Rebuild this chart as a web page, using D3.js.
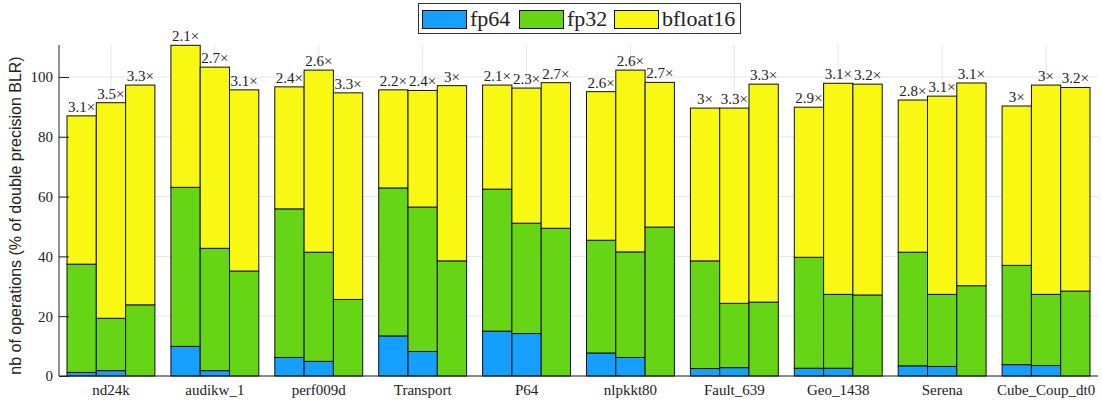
<!DOCTYPE html>
<html>
<head>
<meta charset="utf-8">
<script src="https://d3js.org/d3.v7.min.js"></script>
<style>
  body { margin: 0; background: #fff; }
</style>
</head>
<body>
<div id="chart"></div>
<script>
"use strict"

var matrices = ["nd24k", "audikw_1", "perf009d", "Transport", "P64", "nlpkkt80", "Fault_639", "Geo_1438", "Serena", "Cube_Coup_dt0"];
var series = ["fp64", "fp32", "bfloat16"];

// totals (top of each bar), fp32 top, fp64 top - 3 bars per matrix
var totalTop = [
  [87.0, 91.4, 97.3], [110.6, 103.3, 95.7], [96.7, 102.3, 94.7], [95.7, 95.5, 97.1], [97.3, 96.3, 98.1],
  [95.1, 102.3, 98.2], [89.6, 89.6, 97.6], [89.9, 97.9, 97.6], [92.3, 93.6, 98.0], [90.3, 97.3, 96.5]
];
var fp32Top = [
  [37.4, 19.3, 23.8], [63.1, 42.7, 35.1], [55.9, 41.4, 25.6], [62.9, 56.5, 38.5], [62.5, 51.1, 49.4],
  [45.4, 41.5, 49.8], [38.5, 24.3, 24.7], [39.7, 27.3, 27.1], [41.4, 27.3, 30.2], [37.0, 27.3, 28.4]
];
var fp64Top = [
  [1.2, 1.8, 0], [9.9, 1.8, 0], [6.2, 4.9, 0], [13.4, 8.2, 0], [15.0, 14.2, 0],
  [7.7, 6.2, 0], [2.5, 2.8, 0], [2.6, 2.6, 0], [3.4, 3.2, 0], [3.8, 3.5, 0]
];
var gains = [
  ["3.1", "3.5", "3.3"], ["2.1", "2.7", "3.1"], ["2.4", "2.6", "3.3"], ["2.2", "2.4", "3"], ["2.1", "2.3", "2.7"],
  ["2.6", "2.6", "2.7"], ["3", "3.3", "3.3"], ["2.9", "3.1", "3.2"], ["2.8", "3.1", "3.1"], ["3", "3", "3.2"]
];
var yTicks = [0, 20, 40, 60, 80, 100];

var colors = { fp64: "#15a0ff", fp32: "#66d515", bfloat16: "#f8f813" };
var serif = "'Liberation Serif', 'DejaVu Serif', serif";

var W = 1102, H = 403;
var mLeft = 59, mRight = 1098, mTop = 45, mBottom = 376;

var svg = d3.select("#chart").append("svg").attr("width", W).attr("height", H);

var x = d3.scaleBand().domain(matrices).range([mLeft, mRight]).paddingInner(0.154).paddingOuter(0.077);
var xi = d3.scaleBand().domain([0, 1, 2]).range([0, x.bandwidth()]);
var y = d3.scaleLinear().domain([0, 110.7]).range([mBottom, mTop]);

// grid
svg.append("g").selectAll("line").data(yTicks).enter().append("line")
  .attr("x1", mLeft).attr("x2", mRight)
  .attr("y1", d => y(d)).attr("y2", d => y(d))
  .attr("stroke", "#e6e6e6");
svg.append("g").selectAll("line").data(matrices).enter().append("line")
  .attr("x1", d => x(d) + x.bandwidth() / 2).attr("x2", d => x(d) + x.bandwidth() / 2)
  .attr("y1", mTop).attr("y2", mBottom)
  .attr("stroke", "#e6e6e6");

// bars
var rows = [];
matrices.forEach(function(m, i) {
  for (var j = 0; j < 3; j++) {
    rows.push({ m: m, j: j, seg: "fp64", y0: 0, y1: fp64Top[i][j] });
    rows.push({ m: m, j: j, seg: "fp32", y0: fp64Top[i][j], y1: fp32Top[i][j] });
    rows.push({ m: m, j: j, seg: "bfloat16", y0: fp32Top[i][j], y1: totalTop[i][j] });
  }
});

svg.append("g").selectAll("rect").data(rows.filter(d => d.y1 > d.y0)).enter().append("rect")
  .attr("x", d => x(d.m) + xi(d.j))
  .attr("width", xi.bandwidth())
  .attr("y", d => y(d.y1))
  .attr("height", d => y(d.y0) - y(d.y1))
  .attr("fill", d => colors[d.seg])
  .attr("stroke", "#111")
  .attr("stroke-width", 1);

// gain labels
var labs = [];
matrices.forEach(function(m, i) {
  for (var j = 0; j < 3; j++) labs.push({ m: m, j: j, v: totalTop[i][j], t: gains[i][j] + "\u00d7" });
});
svg.append("g").selectAll("text").data(labs).enter().append("text")
  .style("font-family", serif)
  .attr("fill", "#222")
  .attr("x", d => x(d.m) + xi(d.j) + xi.bandwidth() / 2)
  .attr("y", d => y(d.v) - 4)
  .attr("text-anchor", "middle")
  .style("font-size", "15px")
  .text(d => d.t);

// axes
var ya = svg.append("g").attr("transform", "translate(" + mLeft + ",0)")
  .call(d3.axisLeft(y).tickValues(yTicks).tickSizeInner(-10).tickSizeOuter(0).tickPadding(6));
ya.select(".domain").attr("stroke", "#222").attr("d", "M0," + mBottom + "V" + mTop);
ya.selectAll(".tick line").attr("stroke", "#222");
ya.selectAll(".tick text").style("font-family", serif).style("font-size", "15px").attr("fill", "#222").attr("x", -6);

var xa = svg.append("g").attr("transform", "translate(0," + mBottom + ")")
  .call(d3.axisBottom(x).tickSize(0).tickPadding(8));
xa.select(".domain").attr("stroke", "#222").attr("d", "M" + mLeft + ",0H" + mRight);
xa.selectAll(".tick text").style("font-family", serif).style("font-size", "15px").attr("fill", "#222");

// y label
svg.append("text")
  .attr("transform", "translate(21," + ((mTop + mBottom) / 2 + 5) + ") rotate(-90)")
  .attr("text-anchor", "middle")
  .style("font-family", "'Liberation Sans', Arial, sans-serif")
  .attr("fill", "#222")
  .style("font-size", "16px")
  .text("nb of operations (% of double precision BLR)");

// legend
var lg = svg.append("g");
lg.append("rect").attr("x", 418.5).attr("y", 3.5).attr("width", 322).attr("height", 30)
  .attr("fill", "#fff").attr("stroke", "#333");
var lx = [422, 519, 614];
series.forEach(function(s, k) {
  lg.append("rect").attr("x", lx[k] + 0.5).attr("y", 10.5).attr("width", 44).attr("height", 18)
    .attr("fill", colors[s]).attr("stroke", "#111");
  lg.append("text").style("font-family", serif).attr("fill", "#222")
    .attr("x", lx[k] + 48).attr("y", 26).style("font-size", "22px").text(s);
});
</script>
</body>
</html>
